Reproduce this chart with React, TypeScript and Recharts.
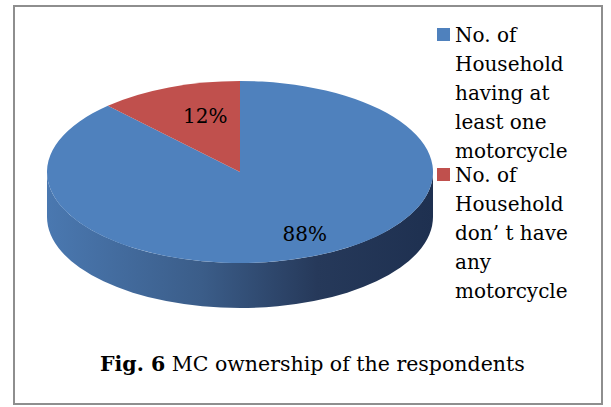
import { Legend, Pie, PieChart } from "recharts";

const CATEGORIES = [
  "No. of Household having at least one motorcycle",
  "No. of Household don’ t have any motorcycle",
];
const SHARES = [88, 12];
const COLORS = ["#4f81bd", "#c0504d"];

const FONT = '"DejaVu Serif", "Liberation Serif", serif';
const TILT = 0.4715; // vertical squash of the top face
const DEPTH = 45; // thickness of the wall

const data = CATEGORIES.map((name, i) => ({
  name,
  value: SHARES[i],
  fill: COLORS[i],
}));

function pt(cx: number, cy: number, r: number, deg: number): [number, number] {
  const a = (deg * Math.PI) / 180;
  return [cx + r * Math.cos(a), cy - TILT * r * Math.sin(a)];
}

/** Flat elliptical top of one slice. */
function TopFace(props: any) {
  const { cx, cy, outerRadius: r, startAngle, endAngle, fill } = props;
  const [x1, y1] = pt(cx, cy, r, startAngle);
  const [x2, y2] = pt(cx, cy, r, endAngle);
  const large = Math.abs(endAngle - startAngle) > 180 ? 1 : 0;
  const sweep = startAngle > endAngle ? 1 : 0;
  return (
    <path
      d={`M${cx},${cy} L${x1},${y1} A${r},${r * TILT} 0 ${large} ${sweep} ${x2},${y2} Z`}
      fill={fill}
      stroke="none"
    />
  );
}

/** Visible (front) part of the wall under one slice. */
function SideWall(props: any) {
  const { cx, cy, outerRadius: r, startAngle, endAngle, index } = props;
  const lo = Math.min(startAngle, endAngle);
  const hi = Math.max(startAngle, endAngle);
  const parts: [number, number][] = [];
  for (let n = -2; n <= 1; n++) {
    const s = Math.max(lo, 180 + 360 * n);
    const e = Math.min(hi, 360 + 360 * n);
    if (e > s) parts.push([s, e]);
  }
  return (
    <g>
      {parts.map(([s, e], i) => {
        const [xs, ys] = pt(cx, cy, r, s);
        const [xe, ye] = pt(cx, cy, r, e);
        const large = e - s > 180 ? 1 : 0;
        const ry = r * TILT;
        return (
          <path
            key={i}
            d={`M${xs},${ys} A${r},${ry} 0 ${large} 0 ${xe},${ye} L${xe},${ye + DEPTH} A${r},${ry} 0 ${large} 1 ${xs},${ys + DEPTH} Z`}
            fill={`url(#mc-wall-${index})`}
            stroke="none"
          />
        );
      })}
    </g>
  );
}

function SliceLabel(props: any) {
  const { cx, cy, outerRadius, midAngle, percent } = props;
  const [x, y] = pt(cx, cy, outerRadius * 0.7, midAngle);
  return (
    <text
      x={x + 15}
      y={y + 3}
      textAnchor="middle"
      dominantBaseline="central"
      fill="#000"
      fontFamily={FONT}
      fontSize={20}
    >
      {`${Math.round(percent * 100)}%`}
    </text>
  );
}

function LegendBox({ payload }: any) {
  const items = (payload ?? [])
    .filter((p: any) => p.type !== "none")
    .sort((a: any, b: any) => CATEGORIES.indexOf(a.value) - CATEGORIES.indexOf(b.value));
  return (
    <div style={{ fontFamily: FONT, fontSize: 20, lineHeight: "29px", color: "#000" }}>
      {items.map((item: any, i: number) => (
        <div
          key={i}
          style={{ display: "flex", alignItems: "flex-start", marginTop: i === 0 ? 0 : -5 }}
        >
          <span
            style={{
              display: "inline-block",
              width: 13,
              height: 13,
              marginTop: 7,
              marginRight: 5,
              background: item.color,
              flex: "0 0 auto",
            }}
          />
          <span style={{ width: 132 }}>{item.value}</span>
        </div>
      ))}
    </div>
  );
}

export default function App() {
  return (
    <div
      style={{
        position: "absolute",
        left: 13,
        top: 5,
        width: 590,
        height: 400,
        boxSizing: "border-box",
        border: "2px solid #8e8e8e",
        background: "#fff",
      }}
    >
      <PieChart width={586} height={396} margin={{ top: 0, right: 0, bottom: 0, left: 0 }}>
        <defs>
          <linearGradient id="mc-wall-0" x1="0" y1="0" x2="1" y2="0">
            <stop offset="0%" stopColor="#4a78b0" />
            <stop offset="40%" stopColor="#3b5d89" />
            <stop offset="70%" stopColor="#26395a" />
            <stop offset="100%" stopColor="#1e3050" />
          </linearGradient>
          <linearGradient id="mc-wall-1" x1="0" y1="0" x2="1" y2="0">
            <stop offset="0%" stopColor="#a8423f" />
            <stop offset="100%" stopColor="#5e2523" />
          </linearGradient>
        </defs>
        <Pie
          data={data}
          dataKey="value"
          nameKey="name"
          cx={225}
          cy={165}
          outerRadius={193}
          startAngle={90}
          endAngle={-270}
          shape={SideWall}
          legendType="none"
          isAnimationActive={false}
        />
        <Pie
          data={data}
          dataKey="value"
          nameKey="name"
          cx={225}
          cy={165}
          outerRadius={193}
          startAngle={90}
          endAngle={-270}
          shape={TopFace}
          label={SliceLabel}
          labelLine={false}
          legendType="square"
          isAnimationActive={false}
        />
        <Legend
          layout="vertical"
          align="right"
          verticalAlign="top"
          wrapperStyle={{ left: 422, top: 14, width: 160 }}
          content={<LegendBox />}
        />
      </PieChart>
      <div
        style={{
          position: "absolute",
          left: 85,
          top: 345,
          fontFamily: FONT,
          fontSize: 20.5,
          color: "#000",
          whiteSpace: "nowrap",
        }}
      >
        <b>Fig. 6</b> MC ownership of the respondents
      </div>
    </div>
  );
}
